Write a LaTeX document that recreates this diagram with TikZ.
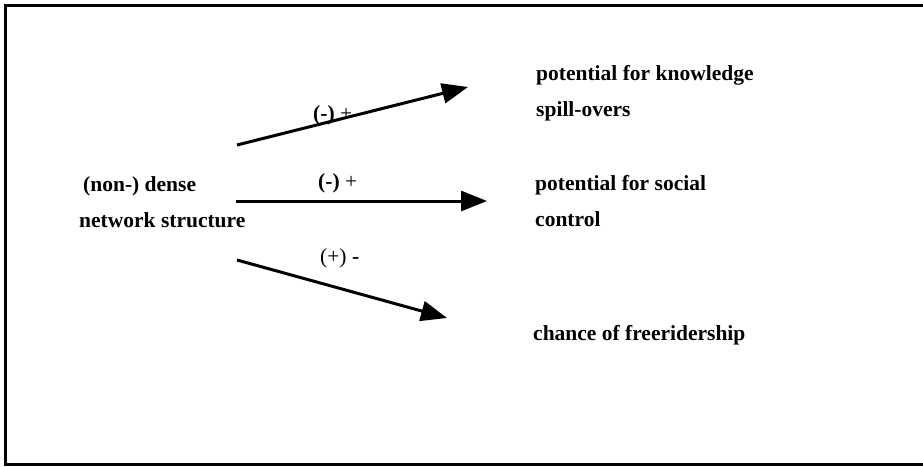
\documentclass[tikz,border=0pt]{standalone}
\usepackage{fontspec}
\setmainfont{Liberation Serif}
\usepackage{tikz}
\usetikzlibrary{arrows.meta}

\begin{document}
\begin{tikzpicture}[x=1pt,y=-1pt]
            \tikzset{line/.style={line width=3pt}};
            \tikzset{arr/.style={line, -{Triangle[length=26pt,width=20pt]}}};
            \tikzset{txt/.style={anchor=base west, inner sep=0pt, font=\fontsize{21.5}{26}\selectfont\bfseries}};
            \tikzset{lbl/.style={anchor=base west, inner sep=0pt, font=\fontsize{21.5}{26}\selectfont}};
            
            \useasboundingbox (0,0) rectangle (923,466);
            \draw[line] (923,5.5) -- (5.5,5.5) -- (5.5,464.5) -- (923,464.5);
            
            \node[txt] (dense) at (83,191) {(non-) dense};
            \node[txt] (net) at (79,227) {network structure};
            
            \node[txt] (know) at (536,80) {potential for knowledge};
            \node[txt] (spill) at (536,116) {spill-overs};
            \node[txt] (soc) at (535,190) {potential for social};
            \node[txt] (ctrl) at (535,226) {control};
            \node[txt] (free) at (533,340) {chance of freeridership};
            
            \coordinate (a1) at (237,145);
            \coordinate (b1) at (468,87);
            \coordinate (a2) at (236,201);
            \coordinate (b2) at (487,201);
            \coordinate (a3) at (237,260);
            \coordinate (b3) at (447,318);
            
            \draw[arr] (a1) -- (b1);
            \draw[arr] (a2) -- (b2);
            \draw[arr] (a3) -- (b3);
            
            \node[lbl] (l1) at (313,120) {\textbf{(-)} +};
            \node[lbl] (l2) at (318,188) {\textbf{(-)} +};
            \node[lbl] (l3) at (320,263) {(+) \textbf{-}};
\end{tikzpicture}
\end{document}
